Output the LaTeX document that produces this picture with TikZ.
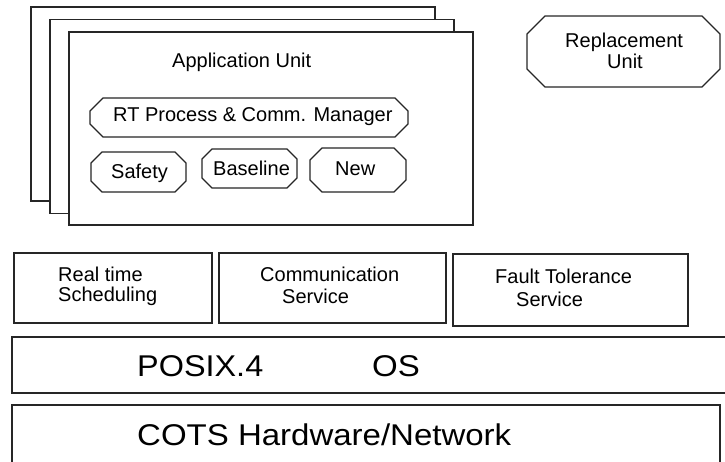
\documentclass[tikz,border=0pt]{standalone}
\usepackage{fontspec}
\setmainfont{Liberation Sans}
% octagonal outline: corners (x1,y1),(x2,y2), chamfer c
\newcommand{\octpath}[5]{%
  \draw[line, fill=white] (#1+#5,#2) -- (#3-#5,#2) -- (#3,#2+#5) -- (#3,#4-#5)
    -- (#3-#5,#4) -- (#1+#5,#4) -- (#1,#4-#5) -- (#1,#2+#5) -- cycle;}
\begin{document}
\begin{tikzpicture}[x=1pt,y=-1pt,
  line/.style={draw=black!85, line width=1.2pt, line join=miter},
  sheet/.style={line, fill=white, rectangle, inner sep=0pt, outer sep=0pt, anchor=north west},
  lbl/.style={anchor=base west, inner sep=0pt, font=\fontsize{20}{24}\selectfont},
  big/.style={anchor=base west, inner sep=0pt, font=\fontsize{30}{36}\selectfont}]
\useasboundingbox (0,0) rectangle (725,461);

% stacked application unit sheets
\node[sheet, minimum width=404pt, minimum height=194pt] (back) at (31,7) {};
\node[sheet, minimum width=404pt, minimum height=194pt] (middle) at (50,19.5) {};
\node[sheet, minimum width=404pt, minimum height=193pt] (front) at (69,32) {};
\node[lbl] (appunit) at (172,67) {Application Unit};

% components inside the application unit
\octpath{90}{98}{408}{137}{13}
\node[lbl] (rt) at (113,121) {RT Process \& Comm. Manager};

\octpath{91}{152}{186}{192}{11}
\node[lbl] (safety) at (111,178) {Safety};

\octpath{202}{149}{297}{188}{10}
\node[lbl] (baseline) at (213,175) {Baseline};

\octpath{310}{148}{406}{192}{12}
\node[lbl] (new) at (335,175) {New};

% replacement unit
\octpath{527}{16}{720}{87}{18}
\node[lbl] (repl) at (565,47) {Replacement};
\node[lbl] (unit) at (607,68) {Unit};

% middleware services
\node[sheet, minimum width=198pt, minimum height=70pt] (schedbox) at (14,253) {};
\node[lbl] (rt1) at (58,281) {Real time};
\node[lbl] (rt2) at (58,301) {Scheduling};

\node[sheet, minimum width=227pt, minimum height=70pt] (commbox) at (219,253) {};
\node[lbl] (cs1) at (260,281) {Communication};
\node[lbl] (cs2) at (282,303) {Service};

\node[sheet, minimum width=235pt, minimum height=72pt] (ftbox) at (453,254) {};
\node[lbl] (ft1) at (495,283) {Fault Tolerance};
\node[lbl] (ft2) at (516,306) {Service};

% operating system layer
\node[sheet, minimum width=720pt, minimum height=56pt] (osbox) at (12,337) {};
\node[big] (posix) at (137,376) {\scalebox{1.08}[1]{POSIX.4}};
\node[big] (os) at (372,376) {\scalebox{1.1}[1]{OS}};

% hardware layer
\node[sheet, minimum width=708pt, minimum height=70pt] (hwbox) at (12,405) {};
\node[big] (hw) at (137,445) {\scalebox{1.1}[1]{COTS Hardware/Network}};
\end{tikzpicture}
\end{document}
